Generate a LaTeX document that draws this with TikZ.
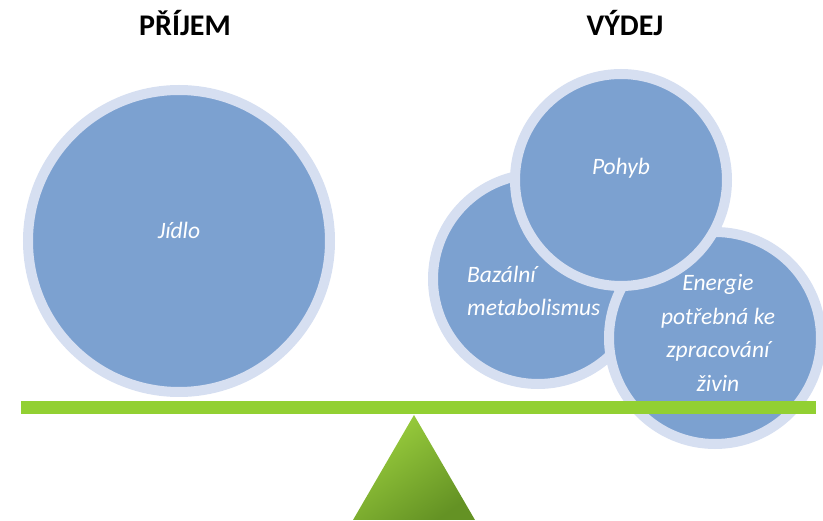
\documentclass[tikz,border=0pt]{standalone}
\usepackage{fontspec}
\setmainfont{Carlito}
\definecolor{circfill}{RGB}{124,161,208}
\definecolor{circring}{RGB}{214,223,241}
\definecolor{barcol}{RGB}{146,208,50}
\definecolor{trilight}{RGB}{156,208,62}
\definecolor{tridark}{RGB}{100,146,36}
\begin{document}
\begin{tikzpicture}[x=1pt,y=-1pt,
  bubble/.style={circle,inner sep=0pt,fill=circfill,draw=circring,line width=10pt},
  lbl/.style={text=white,font=\fontsize{23.5}{33.5}\selectfont\itshape,inner sep=0pt},
  title/.style={text=black,font=\fontsize{30}{36}\selectfont\bfseries,inner sep=0pt}]
\useasboundingbox (0,0) rectangle (823,521);
% titles
\node[title] (tin) at (185,23) {PŘÍJEM};
\node[title] (tout) at (625,23) {VÝDEJ};
% circles
\node[bubble,minimum size=302pt] (jidlo) at (179,241) {};
\node[bubble,minimum size=210pt] (bazal) at (538,279) {};
\node[bubble,minimum size=212pt] (energie) at (715,338) {};
\node[bubble,minimum size=212pt] (pohyb) at (621,180) {};
% labels
\node[lbl] (tjidlo) at (179,230) {Jídlo};
\node[lbl] (tpohyb) at (621,168) {Pohyb};
\node[lbl,align=left,anchor=west] (tbazal) at (467,291) {Bazální\\metabolismus};
\node[lbl,align=center] (tenergie) at (718,333) {Energie\\potřebná ke\\zpracování\\živin};
% lever bar
\fill[barcol] (21,401) rectangle (816,414);
\coordinate (barl) at (21,407.5);
\coordinate (barr) at (816,407.5);
% fulcrum
\coordinate (apex) at (414,415);
\coordinate (bl) at (353,520);
\coordinate (br) at (475,520);
\shade[shading=axis,top color=trilight,bottom color=tridark,shading angle=35] (apex) -- (br) -- (bl) -- cycle;
\end{tikzpicture}
\end{document}
